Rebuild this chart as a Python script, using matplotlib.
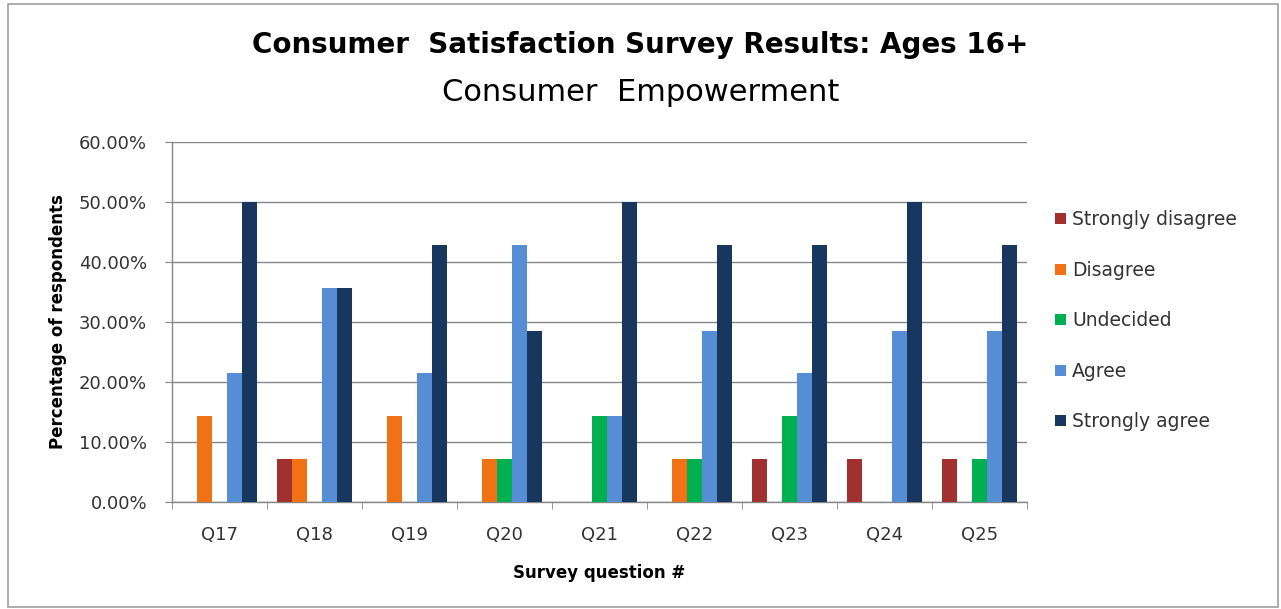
import numpy as np
import matplotlib.pyplot as plt
from matplotlib.patches import Rectangle, Patch
from matplotlib.ticker import PercentFormatter

# 数据：各题目的回答比例（%）
questions = ['Q17', 'Q18', 'Q19', 'Q20', 'Q21', 'Q22', 'Q23', 'Q24', 'Q25']
strongly_disagree = [0, 7.14, 0, 0, 0, 0, 7.14, 7.14, 7.14]
disagree = [14.29, 7.14, 14.29, 7.14, 0, 7.14, 0, 0, 0]
undecided = [0, 0, 0, 7.14, 14.29, 7.14, 14.29, 0, 7.14]
agree = [21.43, 35.71, 21.43, 42.86, 14.29, 28.57, 21.43, 28.57, 28.57]
strongly_agree = [50.0, 35.71, 42.86, 28.57, 50.0, 42.86, 42.86, 50.0, 42.86]

series_names = ['Strongly disagree', 'Disagree', 'Undecided', 'Agree', 'Strongly agree']
series_values = [strongly_disagree, disagree, undecided, agree, strongly_agree]
colors = ['#A0312E', '#F07214', '#00B050', '#558ED5', '#17375E']

fig = plt.figure(figsize=(12.81, 6.09), dpi=100)
ax = fig.add_axes([0.1343, 0.1757, 0.6674, 0.5911])

# 绘制分组柱状图
x = np.arange(len(questions))
width = 0.157
for i, (vals, c) in enumerate(zip(series_values, colors)):
    ax.bar(x + (i - 2) * width, vals, width, color=c, zorder=3)

ax.set_xlim(-0.5, len(questions) - 0.5)
ax.set_ylim(0, 60)
ax.set_yticks(np.arange(0, 61, 10))
ax.yaxis.set_major_formatter(PercentFormatter(decimals=2))
ax.yaxis.grid(True, color='#868686', linewidth=1.0, zorder=0)

# 类别刻度在柱组之间
ax.set_xticks(x)
ax.set_xticklabels(questions)
ax.set_xticks(np.arange(-0.5, len(questions)), minor=True)
ax.tick_params(axis='x', which='major', length=0, pad=17)
ax.tick_params(axis='x', which='minor', length=5, color='#868686', direction='out')
ax.tick_params(axis='y', length=5, color='#868686', direction='out', pad=13)

for lab in ax.get_xticklabels() + ax.get_yticklabels():
    lab.set_fontfamily('DejaVu Sans')
    lab.set_fontsize(13)
    lab.set_color('#333333')

for s in ['top', 'right']:
    ax.spines[s].set_visible(False)
for s in ['left', 'bottom']:
    ax.spines[s].set_color('#868686')
    ax.spines[s].set_linewidth(1.0)

ax.set_ylabel('Percentage of respondents', fontfamily='DejaVu Sans', fontweight='bold',
              fontsize=12)
ax.yaxis.set_label_coords(-0.123, 0.5)
ax.set_xlabel('Survey question #', fontfamily='DejaVu Sans', fontweight='bold',
              fontsize=12, labelpad=15)

# 标题
fig.text(0.5, 0.926, 'Consumer  Satisfaction Survey Results: Ages 16+', ha='center', va='center',
         fontfamily='DejaVu Sans', fontweight='bold', fontsize=20)
fig.text(0.5, 0.848, 'Consumer  Empowerment', ha='center', va='center',
         fontfamily='DejaVu Sans', fontsize=22)

# 图例
handles = [Patch(facecolor=c, label=n) for n, c in zip(series_names, colors)]
leg = fig.legend(handles=handles, loc='upper left', bbox_to_anchor=(0.818, 0.667),
                 frameon=False, prop={'family': 'DejaVu Sans', 'size': 13.5},
                 handlelength=0.55, handleheight=0.55, handletextpad=0.35,
                 labelspacing=1.68, borderaxespad=0)
for t in leg.get_texts():
    t.set_color('#333333')

# 外框
fig.patches.append(Rectangle((0.006, 0.004), 0.992, 0.99, transform=fig.transFigure,
                             fill=False, edgecolor='#A0A0A0', linewidth=1.2))

fig.savefig('out.png', dpi=100)
